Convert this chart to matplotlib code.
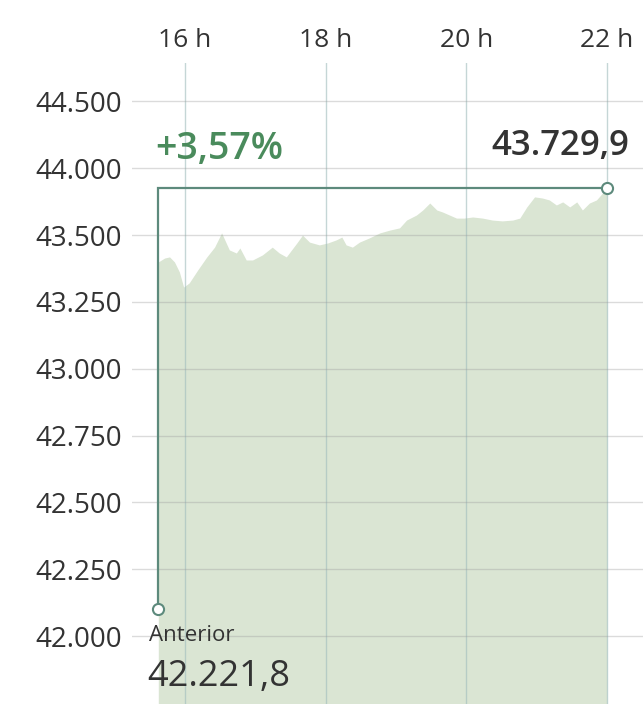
import matplotlib
matplotlib.use("Agg")
import matplotlib.pyplot as plt
import numpy as np

plt.rcParams["font.family"] = ["Open Sans", "DejaVu Sans"]

# intraday index values (hour of day, points)
hours = [15.62, 15.71, 15.78, 15.85, 15.92, 15.98, 16.06, 16.18, 16.31, 16.42,
         16.52, 16.63, 16.73, 16.78, 16.87, 16.96, 17.10, 17.24, 17.34, 17.44,
         17.59, 17.67, 17.77, 17.91, 18.03, 18.15, 18.23, 18.29, 18.38, 18.48,
         18.62, 18.77, 18.91, 19.05, 19.15, 19.29, 19.38, 19.48, 19.58, 19.66,
         19.76, 19.86, 19.97, 20.09, 20.23, 20.37, 20.51, 20.66, 20.76, 20.86,
         20.97, 21.08, 21.18, 21.28, 21.37, 21.47, 21.57, 21.65, 21.75, 21.85,
         22.00]
values = [43465, 43479, 43483, 43465, 43429, 43375, 43390, 43436, 43483, 43518,
          43569, 43508, 43497, 43515, 43472, 43472, 43490, 43518, 43497, 43483,
          43533, 43561, 43536, 43526, 43533, 43544, 43554, 43526, 43518, 43536,
          43551, 43569, 43579, 43587, 43615, 43633, 43651, 43676, 43651, 43644,
          43633, 43622, 43622, 43626, 43622, 43615, 43612, 43615, 43622, 43662,
          43698, 43694, 43687, 43669, 43680, 43662, 43680, 43651, 43676, 43687,
          43729.9]

prev_close = 42221.8
last_value = 43729.9
change_txt = "+3,57%"
prev_txt = "42.221,8"
last_txt = "43.729,9"

x_ticks = [16, 18, 20, 22]
x_labels = ["16 h", "18 h", "20 h", "22 h"]
y_labels = ["42.000", "42.250", "42.500", "42.750", "43.000",
            "43.250", "43.500", "44.000", "44.500"]

line_col = "#5d8a7c"
fill_col = "#dae5d3"
text_col = "#333333"
green = "#4a8b5c"

fig = plt.figure(figsize=(6.43, 7.04), dpi=100)
ax = fig.add_axes([132 / 643, 0, 1 - 132 / 643, (704 - 63) / 704])

ax.set_xlim(15.246, 22.512)
ax.set_ylim(41881.5, 44177.6)

ylim_bottom = ax.get_ylim()[0]
ax.fill_between(hours, values, ylim_bottom, color=fill_col, lw=0, zorder=1)

# grid
for t in x_ticks:
    ax.axvline(t, color="#9fbcbc", lw=1, alpha=0.6, zorder=2)
y_ticks = np.linspace(42125, 44040, len(y_labels))
for v in y_ticks:
    ax.axhline(v, color="#9a9a9a", lw=1, alpha=0.35, zorder=2)

# previous close -> last value bracket
x0 = hours[0]
x1 = hours[-1]
ax.plot([x0, x0, x1], [prev_close, last_value, last_value], color=line_col,
        lw=1.6, zorder=3, solid_joinstyle="miter")
ax.plot([x0, x1], [prev_close, last_value], ls="none", marker="o", ms=8,
        mfc="white", mec=line_col, mew=1.5, zorder=4)

ax.annotate(change_txt, (x0, last_value), xytext=(-2, 28), textcoords="offset points",
            ha="left", va="center", fontsize=27, color=green, fontweight="semibold")
ax.annotate(last_txt, (x1, last_value), xytext=(16, 30), textcoords="offset points",
            ha="right", va="center", fontsize=25, color=text_col, fontweight="semibold")
ax.annotate("Anterior", (x0, prev_close), xytext=(-7, -19), textcoords="offset points",
            ha="left", va="center", fontsize=16, color=text_col)
ax.annotate(prev_txt, (x0, prev_close), xytext=(-8, -49), textcoords="offset points",
            ha="left", va="center", fontsize=26, color=text_col)

ax.xaxis.tick_top()
ax.set_xticks(x_ticks)
ax.set_xticklabels(x_labels)
ax.set_yticks(y_ticks)
ax.set_yticklabels(y_labels)
ax.tick_params(axis="x", length=0, pad=7, labelsize=19, labelcolor=text_col)
ax.tick_params(axis="y", length=0, pad=7, labelsize=20, labelcolor=text_col)
for lbl in ax.get_xticklabels() + ax.get_yticklabels():
    lbl.set_fontweight("medium")
for s in ax.spines.values():
    s.set_visible(False)

fig.savefig("out.png", dpi=100)
